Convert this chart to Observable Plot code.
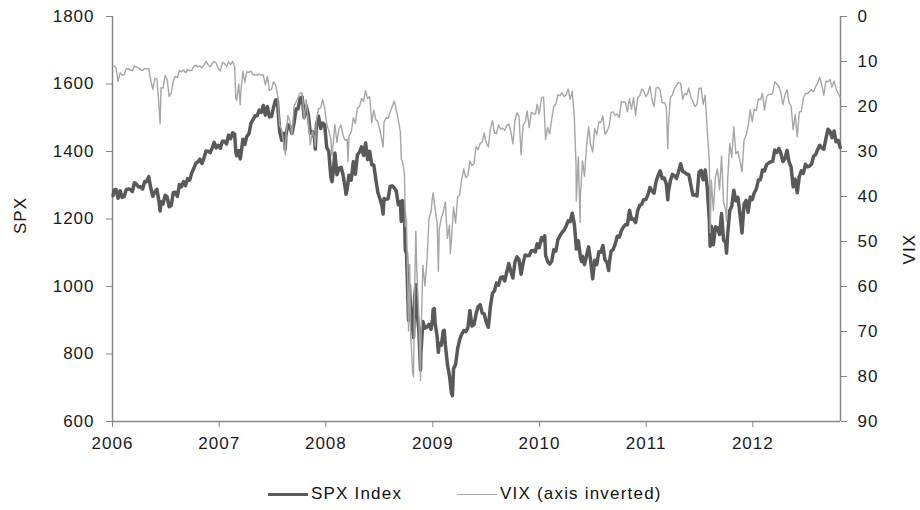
<!DOCTYPE html>
<html>
<head>
<meta charset="utf-8">
<script src="https://cdn.jsdelivr.net/npm/d3@7"></script>
<script src="https://cdn.jsdelivr.net/npm/@observablehq/plot@0.6"></script>
<style>
  html, body { margin: 0; padding: 0; background: #fff; }
  body { width: 920px; height: 510px; overflow: hidden; font-family: "Liberation Sans", Arial, sans-serif; }
  #chart svg text { letter-spacing: 1px; }
  .legend { position: relative; height: 32px; font-size: 17px; letter-spacing: 1.2px; color: #111; }
  .legend .item { position: absolute; top: 0; height: 32px; display: flex; align-items: center; }
  .legend .sw { display: inline-block; width: 40px; margin-right: 3px; }
</style>
</head>
<body>
<div id="chart"></div>
<div class="legend" id="legend"></div>
<script>
// ---------------- DATA ----------------
const seriesNames = ["SPX Index", "VIX (axis inverted)"];
const yearTicks = ["2006", "2007", "2008", "2009", "2010", "2011", "2012"];
const spxTicks = [600, 800, 1000, 1200, 1400, 1600, 1800];
const vixTicks = [0, 10, 20, 30, 40, 50, 60, 70, 80, 90];
const xStart = "2006-01-01";
const xEnd = "2012-10-27";

const spx2006 = [["2006-01-03",1268.8],["2006-01-06",1285.5],["2006-01-13",1287.6],["2006-01-20",1261.5],["2006-01-27",1283.7],["2006-02-03",1264.0],["2006-02-10",1267.0],["2006-02-17",1287.2],["2006-02-24",1289.4],["2006-03-03",1287.2],["2006-03-10",1281.4],["2006-03-17",1307.3],["2006-03-24",1303.0],["2006-03-31",1294.8],["2006-04-07",1295.5],["2006-04-14",1289.1],["2006-04-21",1311.3],["2006-04-28",1310.6],["2006-05-05",1325.8],["2006-05-12",1291.2],["2006-05-19",1267.0],["2006-05-26",1280.2],["2006-06-02",1288.2],["2006-06-09",1252.3],["2006-06-13",1223.7],["2006-06-16",1251.5],["2006-06-23",1244.5],["2006-06-30",1270.2],["2006-07-07",1265.5],["2006-07-14",1236.2],["2006-07-21",1240.3],["2006-07-28",1278.6],["2006-08-04",1279.4],["2006-08-11",1266.7],["2006-08-18",1302.3],["2006-08-25",1295.1],["2006-09-01",1311.0],["2006-09-08",1298.9],["2006-09-15",1319.7],["2006-09-22",1314.8],["2006-09-29",1335.9],["2006-10-06",1349.6],["2006-10-13",1365.6],["2006-10-20",1368.6],["2006-10-27",1377.3],["2006-11-03",1364.3],["2006-11-10",1380.9],["2006-11-17",1401.2],["2006-11-24",1401.0],["2006-12-01",1396.7],["2006-12-08",1409.8],["2006-12-15",1427.1],["2006-12-22",1410.8],["2006-12-29",1418.3]];
const spx2007 = [["2007-01-05",1409.7],["2007-01-12",1430.7],["2007-01-19",1430.5],["2007-01-26",1422.2],["2007-02-02",1448.4],["2007-02-09",1438.1],["2007-02-16",1455.5],["2007-02-23",1451.2],["2007-02-27",1399.0],["2007-03-02",1387.2],["2007-03-09",1402.8],["2007-03-14",1377.9],["2007-03-16",1387.0],["2007-03-23",1436.1],["2007-03-30",1420.9],["2007-04-05",1443.8],["2007-04-13",1452.9],["2007-04-20",1484.4],["2007-04-27",1494.1],["2007-05-04",1505.6],["2007-05-11",1505.9],["2007-05-18",1522.8],["2007-05-25",1515.7],["2007-06-01",1536.3],["2007-06-08",1507.7],["2007-06-15",1532.9],["2007-06-22",1502.6],["2007-06-29",1503.4],["2007-07-06",1530.4],["2007-07-13",1552.5],["2007-07-19",1553.1],["2007-07-27",1459.0],["2007-08-03",1433.1],["2007-08-10",1453.6],["2007-08-15",1406.7],["2007-08-17",1445.9],["2007-08-24",1479.4],["2007-08-31",1474.0],["2007-09-07",1453.6],["2007-09-14",1484.3],["2007-09-21",1525.8],["2007-09-28",1526.8],["2007-10-05",1557.6],["2007-10-12",1561.8],["2007-10-19",1500.6],["2007-10-26",1535.3],["2007-11-02",1509.7],["2007-11-09",1453.7],["2007-11-16",1458.7],["2007-11-23",1440.7],["2007-11-26",1407.2],["2007-11-30",1481.1],["2007-12-07",1504.7],["2007-12-14",1468.0],["2007-12-21",1484.5],["2007-12-28",1478.5]];
const spx2008 = [["2008-01-04",1411.6],["2008-01-11",1401.0],["2008-01-18",1325.2],["2008-01-22",1310.5],["2008-01-25",1330.6],["2008-02-01",1395.4],["2008-02-08",1331.3],["2008-02-15",1350.0],["2008-02-22",1353.1],["2008-02-29",1330.6],["2008-03-07",1293.4],["2008-03-10",1273.4],["2008-03-14",1288.1],["2008-03-20",1329.5],["2008-03-28",1315.2],["2008-04-04",1370.4],["2008-04-11",1332.8],["2008-04-18",1390.3],["2008-04-25",1397.8],["2008-05-02",1413.9],["2008-05-09",1388.3],["2008-05-16",1425.4],["2008-05-23",1375.9],["2008-05-30",1400.4],["2008-06-06",1360.7],["2008-06-13",1360.0],["2008-06-20",1317.9],["2008-06-27",1278.4],["2008-07-03",1262.9],["2008-07-11",1239.5],["2008-07-15",1214.9],["2008-07-18",1260.7],["2008-07-25",1257.8],["2008-08-01",1260.3],["2008-08-08",1296.3],["2008-08-15",1298.2],["2008-08-22",1292.2],["2008-08-29",1282.8],["2008-09-05",1242.3],["2008-09-12",1251.7],["2008-09-15",1192.7],["2008-09-19",1255.1],["2008-09-26",1213.3],["2008-09-29",1106.4],["2008-10-03",1099.2],["2008-10-10",899.2],["2008-10-13",1003.4],["2008-10-17",940.6],["2008-10-24",876.8],["2008-10-27",848.9],["2008-10-31",968.8],["2008-11-04",1005.8],["2008-11-07",931.0],["2008-11-14",873.3],["2008-11-20",752.4],["2008-11-21",800.0],["2008-11-28",896.2],["2008-12-05",876.1],["2008-12-12",879.7],["2008-12-19",887.9],["2008-12-26",872.8],["2008-12-31",903.3]];
const spx2009 = [["2009-01-02",931.8],["2009-01-06",934.7],["2009-01-09",890.4],["2009-01-16",850.1],["2009-01-20",805.2],["2009-01-23",832.0],["2009-01-30",825.9],["2009-02-06",868.6],["2009-02-09",869.9],["2009-02-13",826.8],["2009-02-20",770.1],["2009-02-27",735.1],["2009-03-06",683.4],["2009-03-09",676.5],["2009-03-13",756.6],["2009-03-20",768.5],["2009-03-27",815.9],["2009-04-03",842.5],["2009-04-09",856.6],["2009-04-17",869.6],["2009-04-24",866.2],["2009-05-01",877.5],["2009-05-08",929.2],["2009-05-15",882.9],["2009-05-22",887.0],["2009-05-29",919.1],["2009-06-05",940.1],["2009-06-12",946.2],["2009-06-19",921.2],["2009-06-26",918.9],["2009-07-02",896.4],["2009-07-10",879.1],["2009-07-17",940.4],["2009-07-24",979.3],["2009-07-31",987.5],["2009-08-07",1010.5],["2009-08-14",1004.1],["2009-08-21",1026.1],["2009-08-28",1028.9],["2009-09-04",1016.4],["2009-09-11",1042.7],["2009-09-18",1068.3],["2009-09-25",1044.4],["2009-10-02",1025.2],["2009-10-09",1071.5],["2009-10-16",1087.7],["2009-10-23",1079.6],["2009-10-30",1036.2],["2009-11-06",1069.3],["2009-11-13",1093.5],["2009-11-20",1091.4],["2009-11-27",1091.5],["2009-12-04",1106.0],["2009-12-11",1106.4],["2009-12-18",1102.5],["2009-12-24",1126.5],["2009-12-31",1115.1]];
const spx2010 = [["2010-01-08",1145.0],["2010-01-15",1136.0],["2010-01-19",1150.2],["2010-01-22",1091.8],["2010-01-29",1073.9],["2010-02-05",1066.2],["2010-02-12",1075.5],["2010-02-19",1109.2],["2010-02-26",1104.5],["2010-03-05",1138.7],["2010-03-12",1150.0],["2010-03-19",1159.9],["2010-03-26",1166.6],["2010-04-02",1178.1],["2010-04-09",1194.4],["2010-04-16",1192.1],["2010-04-23",1217.3],["2010-04-30",1186.7],["2010-05-06",1128.2],["2010-05-07",1110.9],["2010-05-14",1135.7],["2010-05-21",1087.7],["2010-05-25",1074.0],["2010-05-28",1089.4],["2010-06-04",1064.9],["2010-06-11",1091.6],["2010-06-18",1117.5],["2010-06-25",1076.8],["2010-07-02",1022.6],["2010-07-09",1078.0],["2010-07-16",1064.9],["2010-07-23",1102.7],["2010-07-30",1101.6],["2010-08-06",1121.6],["2010-08-13",1079.3],["2010-08-20",1071.7],["2010-08-26",1047.2],["2010-08-27",1064.6],["2010-09-03",1104.5],["2010-09-10",1109.6],["2010-09-17",1125.6],["2010-09-24",1148.7],["2010-10-01",1146.2],["2010-10-08",1165.2],["2010-10-15",1176.2],["2010-10-22",1183.1],["2010-10-29",1183.3],["2010-11-05",1225.9],["2010-11-12",1199.2],["2010-11-19",1199.7],["2010-11-26",1189.4],["2010-12-03",1224.7],["2010-12-10",1240.4],["2010-12-17",1243.9],["2010-12-23",1256.8],["2010-12-31",1257.6]];
const spx2011 = [["2011-01-07",1271.5],["2011-01-14",1293.2],["2011-01-21",1283.4],["2011-01-28",1276.3],["2011-02-04",1310.9],["2011-02-11",1329.2],["2011-02-18",1343.0],["2011-02-25",1319.9],["2011-03-04",1321.2],["2011-03-11",1304.3],["2011-03-16",1256.9],["2011-03-18",1279.2],["2011-03-25",1313.8],["2011-04-01",1332.4],["2011-04-08",1328.2],["2011-04-15",1319.7],["2011-04-21",1337.4],["2011-04-29",1363.6],["2011-05-06",1340.2],["2011-05-13",1337.8],["2011-05-20",1333.3],["2011-05-27",1331.1],["2011-06-03",1300.2],["2011-06-10",1271.0],["2011-06-17",1271.5],["2011-06-24",1268.5],["2011-07-01",1339.7],["2011-07-08",1343.8],["2011-07-15",1316.1],["2011-07-22",1345.0],["2011-07-29",1292.3],["2011-08-05",1199.4],["2011-08-08",1119.5],["2011-08-12",1178.8],["2011-08-19",1123.5],["2011-08-26",1176.8],["2011-09-02",1174.0],["2011-09-09",1154.2],["2011-09-16",1216.0],["2011-09-23",1136.4],["2011-09-30",1131.4],["2011-10-03",1099.2],["2011-10-07",1155.5],["2011-10-14",1224.6],["2011-10-21",1238.3],["2011-10-28",1285.1],["2011-11-04",1253.2],["2011-11-11",1263.9],["2011-11-18",1215.7],["2011-11-25",1158.7],["2011-12-02",1244.3],["2011-12-09",1255.2],["2011-12-16",1219.7],["2011-12-23",1265.3],["2011-12-30",1257.6]];
const spx2012 = [["2012-01-06",1277.8],["2012-01-13",1289.1],["2012-01-20",1315.4],["2012-01-27",1316.3],["2012-02-03",1344.9],["2012-02-10",1342.6],["2012-02-17",1361.2],["2012-02-24",1365.7],["2012-03-02",1369.6],["2012-03-09",1370.9],["2012-03-16",1404.2],["2012-03-23",1397.1],["2012-03-30",1408.5],["2012-04-05",1398.1],["2012-04-13",1370.3],["2012-04-20",1378.5],["2012-04-27",1403.4],["2012-05-04",1369.1],["2012-05-11",1353.4],["2012-05-18",1295.2],["2012-05-25",1317.8],["2012-06-01",1278.0],["2012-06-08",1325.7],["2012-06-15",1342.8],["2012-06-22",1335.0],["2012-06-29",1362.2],["2012-07-06",1354.7],["2012-07-13",1356.8],["2012-07-20",1362.7],["2012-07-27",1386.0],["2012-08-03",1391.0],["2012-08-10",1405.9],["2012-08-17",1418.2],["2012-08-24",1411.1],["2012-08-31",1406.6],["2012-09-07",1437.9],["2012-09-14",1465.8],["2012-09-21",1460.2],["2012-09-28",1440.7],["2012-10-05",1460.9],["2012-10-12",1428.6],["2012-10-19",1433.2],["2012-10-26",1411.9]];

const vix2006 = [["2006-01-03",11.1],["2006-01-06",11.0],["2006-01-13",11.4],["2006-01-20",14.4],["2006-01-27",12.5],["2006-02-03",13.0],["2006-02-10",12.9],["2006-02-17",11.6],["2006-02-24",11.6],["2006-03-03",11.9],["2006-03-10",12.0],["2006-03-17",11.0],["2006-03-24",11.2],["2006-03-31",11.4],["2006-04-07",11.8],["2006-04-14",12.0],["2006-04-21",11.6],["2006-04-28",11.6],["2006-05-05",11.6],["2006-05-12",14.2],["2006-05-19",16.2],["2006-05-26",13.7],["2006-06-02",13.9],["2006-06-08",18.9],["2006-06-13",23.8],["2006-06-16",15.8],["2006-06-23",15.9],["2006-06-30",13.1],["2006-07-07",14.0],["2006-07-14",17.8],["2006-07-21",17.0],["2006-07-28",14.3],["2006-08-04",13.3],["2006-08-11",13.6],["2006-08-18",12.0],["2006-08-25",12.3],["2006-09-01",11.9],["2006-09-08",12.5],["2006-09-15",11.8],["2006-09-22",12.0],["2006-09-29",12.0],["2006-10-06",11.1],["2006-10-13",10.8],["2006-10-20",11.2],["2006-10-27",11.0],["2006-11-03",11.4],["2006-11-10",10.8],["2006-11-17",10.0],["2006-11-24",10.7],["2006-12-01",11.2],["2006-12-08",10.5],["2006-12-15",10.0],["2006-12-22",10.4],["2006-12-29",11.6]];
const vix2007 = [["2007-01-05",12.1],["2007-01-12",10.2],["2007-01-19",10.4],["2007-01-26",11.1],["2007-02-02",10.1],["2007-02-09",10.7],["2007-02-16",10.0],["2007-02-23",11.1],["2007-02-27",18.3],["2007-03-02",18.6],["2007-03-09",15.0],["2007-03-14",19.6],["2007-03-16",16.8],["2007-03-23",12.2],["2007-03-30",14.6],["2007-04-05",12.3],["2007-04-13",12.4],["2007-04-20",12.1],["2007-04-27",13.0],["2007-05-04",12.9],["2007-05-11",13.0],["2007-05-18",12.8],["2007-05-25",13.0],["2007-06-01",13.0],["2007-06-08",15.2],["2007-06-15",13.3],["2007-06-22",16.4],["2007-06-29",16.2],["2007-07-06",14.5],["2007-07-13",15.2],["2007-07-20",17.6],["2007-07-27",24.2],["2007-08-03",25.2],["2007-08-10",28.2],["2007-08-16",30.8],["2007-08-17",27.2],["2007-08-24",22.0],["2007-08-31",23.4],["2007-09-07",26.2],["2007-09-14",20.1],["2007-09-21",19.0],["2007-09-28",18.0],["2007-10-05",17.0],["2007-10-12",17.0],["2007-10-19",22.9],["2007-10-26",18.5],["2007-11-02",23.0],["2007-11-09",28.5],["2007-11-16",25.5],["2007-11-23",26.8],["2007-11-26",28.9],["2007-11-30",22.9],["2007-12-07",20.5],["2007-12-14",20.3],["2007-12-21",18.5],["2007-12-28",20.3]];
const vix2008 = [["2008-01-04",23.9],["2008-01-11",25.4],["2008-01-18",27.2],["2008-01-22",31.0],["2008-01-25",29.0],["2008-02-01",24.0],["2008-02-08",28.0],["2008-02-15",25.0],["2008-02-22",24.1],["2008-02-29",26.5],["2008-03-07",27.5],["2008-03-14",27.3],["2008-03-17",32.2],["2008-03-20",26.6],["2008-03-28",25.7],["2008-04-04",22.5],["2008-04-11",23.8],["2008-04-18",20.3],["2008-04-25",20.1],["2008-05-02",18.2],["2008-05-09",18.9],["2008-05-16",16.5],["2008-05-23",18.2],["2008-05-30",17.8],["2008-06-06",23.6],["2008-06-13",20.8],["2008-06-20",22.9],["2008-06-27",23.4],["2008-07-03",25.0],["2008-07-11",27.5],["2008-07-15",29.0],["2008-07-18",23.5],["2008-07-25",22.5],["2008-08-01",22.6],["2008-08-08",21.2],["2008-08-15",20.0],["2008-08-22",18.8],["2008-08-29",20.7],["2008-09-05",23.0],["2008-09-12",25.7],["2008-09-15",31.7],["2008-09-19",32.1],["2008-09-26",35.0],["2008-09-29",46.7],["2008-10-03",45.1],["2008-10-10",69.9],["2008-10-14",55.1],["2008-10-17",70.3],["2008-10-24",79.1],["2008-10-27",80.1],["2008-10-31",59.9],["2008-11-04",47.7],["2008-11-07",56.1],["2008-11-14",66.3],["2008-11-20",80.9],["2008-11-21",72.7],["2008-11-28",55.3],["2008-12-05",59.9],["2008-12-12",54.3],["2008-12-19",44.9],["2008-12-26",43.4],["2008-12-31",40.0]];
const vix2009 = [["2009-01-02",39.2],["2009-01-09",42.8],["2009-01-16",46.1],["2009-01-20",56.6],["2009-01-23",47.3],["2009-01-30",44.8],["2009-02-06",43.4],["2009-02-13",41.2],["2009-02-20",49.3],["2009-02-27",46.4],["2009-03-02",52.7],["2009-03-06",49.3],["2009-03-13",42.4],["2009-03-20",45.9],["2009-03-27",40.0],["2009-04-03",39.7],["2009-04-09",36.5],["2009-04-17",33.9],["2009-04-24",35.8],["2009-05-01",35.3],["2009-05-08",32.1],["2009-05-15",33.1],["2009-05-22",32.6],["2009-05-29",28.9],["2009-06-05",29.6],["2009-06-12",28.2],["2009-06-19",27.9],["2009-06-26",25.9],["2009-07-02",27.9],["2009-07-10",29.0],["2009-07-17",25.0],["2009-07-24",23.1],["2009-07-31",25.9],["2009-08-07",26.0],["2009-08-14",24.1],["2009-08-21",25.0],["2009-08-28",24.8],["2009-09-04",25.3],["2009-09-11",24.2],["2009-09-18",23.9],["2009-09-25",25.6],["2009-10-02",28.3],["2009-10-09",23.1],["2009-10-16",21.4],["2009-10-23",22.3],["2009-10-30",30.7],["2009-11-06",24.2],["2009-11-13",23.4],["2009-11-20",21.0],["2009-11-27",24.7],["2009-12-04",21.3],["2009-12-11",21.6],["2009-12-18",21.7],["2009-12-24",19.5],["2009-12-31",21.7]];
const vix2010 = [["2010-01-08",18.1],["2010-01-15",17.9],["2010-01-22",27.3],["2010-01-29",24.6],["2010-02-05",26.1],["2010-02-12",22.7],["2010-02-19",20.0],["2010-02-26",19.5],["2010-03-05",17.4],["2010-03-12",17.6],["2010-03-19",16.9],["2010-03-26",17.8],["2010-04-02",17.5],["2010-04-09",16.1],["2010-04-16",18.4],["2010-04-23",16.6],["2010-04-30",22.0],["2010-05-06",32.8],["2010-05-07",41.0],["2010-05-14",31.2],["2010-05-20",45.8],["2010-05-21",40.1],["2010-05-28",32.1],["2010-06-04",35.5],["2010-06-11",28.8],["2010-06-18",24.5],["2010-06-25",28.5],["2010-07-02",30.1],["2010-07-09",24.9],["2010-07-16",26.3],["2010-07-23",23.5],["2010-07-30",23.5],["2010-08-06",22.1],["2010-08-13",26.2],["2010-08-20",25.5],["2010-08-27",24.5],["2010-09-03",21.3],["2010-09-10",21.2],["2010-09-17",22.0],["2010-09-24",21.7],["2010-10-01",22.5],["2010-10-08",18.9],["2010-10-15",19.0],["2010-10-22",19.1],["2010-10-29",21.2],["2010-11-05",18.3],["2010-11-12",20.6],["2010-11-19",18.0],["2010-11-26",22.0],["2010-12-03",18.0],["2010-12-10",17.6],["2010-12-17",16.1],["2010-12-23",16.5],["2010-12-31",17.8]];
const vix2011 = [["2011-01-07",17.1],["2011-01-14",15.5],["2011-01-21",18.5],["2011-01-28",20.0],["2011-02-04",15.9],["2011-02-11",15.7],["2011-02-18",16.4],["2011-02-25",19.2],["2011-03-04",19.1],["2011-03-11",20.1],["2011-03-16",29.4],["2011-03-18",24.4],["2011-03-25",18.0],["2011-04-01",17.4],["2011-04-08",16.0],["2011-04-15",15.3],["2011-04-21",14.7],["2011-04-29",14.8],["2011-05-06",18.4],["2011-05-13",17.1],["2011-05-20",17.4],["2011-05-27",15.9],["2011-06-03",17.9],["2011-06-10",18.9],["2011-06-17",20.0],["2011-06-24",19.5],["2011-07-01",16.0],["2011-07-08",15.9],["2011-07-15",19.5],["2011-07-22",17.5],["2011-07-29",25.3],["2011-08-05",32.0],["2011-08-08",48.0],["2011-08-12",36.4],["2011-08-19",43.1],["2011-08-26",35.6],["2011-09-02",33.9],["2011-09-09",38.5],["2011-09-16",31.0],["2011-09-23",41.3],["2011-09-30",43.0],["2011-10-03",45.5],["2011-10-07",36.3],["2011-10-14",28.2],["2011-10-21",31.3],["2011-10-28",24.5],["2011-11-04",30.5],["2011-11-11",30.0],["2011-11-18",32.0],["2011-11-25",34.5],["2011-12-02",27.5],["2011-12-09",26.4],["2011-12-16",24.3],["2011-12-23",20.7],["2011-12-30",23.4]];
const vix2012 = [["2012-01-06",20.6],["2012-01-13",20.9],["2012-01-20",18.3],["2012-01-27",18.5],["2012-02-03",17.1],["2012-02-10",20.8],["2012-02-17",17.8],["2012-02-24",17.3],["2012-03-02",17.3],["2012-03-09",17.1],["2012-03-16",14.5],["2012-03-23",15.0],["2012-03-30",15.5],["2012-04-05",16.7],["2012-04-13",19.6],["2012-04-20",17.4],["2012-04-27",16.3],["2012-05-04",19.2],["2012-05-11",19.9],["2012-05-18",25.1],["2012-05-25",21.8],["2012-06-01",26.7],["2012-06-08",21.2],["2012-06-15",21.1],["2012-06-22",18.1],["2012-06-29",17.1],["2012-07-06",17.1],["2012-07-13",16.7],["2012-07-20",16.3],["2012-07-27",16.7],["2012-08-03",15.6],["2012-08-10",14.7],["2012-08-17",13.5],["2012-08-24",15.2],["2012-08-31",17.5],["2012-09-07",14.4],["2012-09-14",14.5],["2012-09-21",14.0],["2012-09-28",15.7],["2012-10-05",14.3],["2012-10-12",16.1],["2012-10-19",17.1],["2012-10-26",18.0]];

// ---------------- BUILD ----------------
const parse = d3.utcParse("%Y-%m-%d");
const toRows = arr => arr.map(([d, v]) => ({date: parse(d), value: v}));
const spx = toRows([].concat(spx2006, spx2007, spx2008, spx2009, spx2010, spx2011, spx2012));
const vix = toRows([].concat(vix2006, vix2007, vix2008, vix2009, vix2010, vix2011, vix2012));

const spxDomain = [spxTicks[0], spxTicks[spxTicks.length - 1]];
const vixDomain = [vixTicks[0], vixTicks[vixTicks.length - 1]];
// inverted VIX axis mapped onto the SPX scale
const vixToSpx = v => spxDomain[1] - (v - vixDomain[0]) * (spxDomain[1] - spxDomain[0]) / (vixDomain[1] - vixDomain[0]);
const spxToVix = s => vixDomain[0] + (spxDomain[1] - s) * (vixDomain[1] - vixDomain[0]) / (spxDomain[1] - spxDomain[0]);

const x0 = parse(xStart), x1 = parse(xEnd);
const yearDates = yearTicks.map(y => d3.utcParse("%Y")(y));

const axisColor = "#868686";
const textColor = "#1a1a1a";
const spxColor = "#595959";
const vixColor = "#a6a6a6";

const chart = Plot.plot({
  width: 920,
  height: 478,
  marginTop: 16,
  marginBottom: 57,
  marginLeft: 112,
  marginRight: 80,
  style: {fontFamily: "'Liberation Sans', Arial, sans-serif", fontSize: "17px", color: textColor, background: "#fff", overflow: "visible"},
  x: {type: "utc", domain: [x0, x1]},
  y: {domain: spxDomain},
  marks: [
    Plot.ruleX([x0], {stroke: axisColor, strokeWidth: 1.5}),
    Plot.ruleX([x1], {stroke: axisColor, strokeWidth: 1.5}),
    Plot.ruleY([spxDomain[0]], {stroke: axisColor, strokeWidth: 1.5}),
    Plot.axisX({ticks: yearDates, tickFormat: d3.utcFormat("%Y"), tickSize: 6, tickPadding: 9, stroke: axisColor, fill: textColor, label: null}),
    Plot.axisY({anchor: "left", ticks: spxTicks, tickFormat: d3.format("d"), tickSize: 6, tickPadding: 12, stroke: axisColor, fill: textColor, label: null}),
    Plot.axisY({anchor: "right", ticks: vixTicks.map(vixToSpx), tickFormat: s => String(Math.round(spxToVix(s))), tickSize: 6, tickPadding: 11, stroke: axisColor, fill: textColor, label: null}),
    Plot.text(["SPX"], {frameAnchor: "left", rotate: -90, dx: -92, dy: 15, fill: textColor, fontSize: 17}),
    Plot.text(["VIX"], {frameAnchor: "right", rotate: -90, dx: 69, dy: 15, fill: textColor, fontSize: 17}),
    Plot.lineY(spx, {x: "date", y: "value", stroke: spxColor, strokeWidth: 3.5, strokeLinejoin: "round"}),
    Plot.lineY(vix, {x: "date", y: d => vixToSpx(d.value), stroke: vixColor, strokeWidth: 1.4})
  ]
});
document.getElementById("chart").appendChild(chart);

// legend below the chart
const legend = document.getElementById("legend");
const legendItems = [
  {name: seriesNames[0], color: spxColor, width: 3.5, left: 268},
  {name: seriesNames[1], color: vixColor, width: 1.4, left: 457}
];
for (const it of legendItems) {
  const div = document.createElement("div");
  div.className = "item";
  div.style.left = it.left + "px";
  const sw = document.createElement("span");
  sw.className = "sw";
  sw.style.borderTop = it.width + "px solid " + it.color;
  div.appendChild(sw);
  const t = document.createElement("span");
  t.textContent = it.name;
  div.appendChild(t);
  legend.appendChild(div);
}
</script>
</body>
</html>
